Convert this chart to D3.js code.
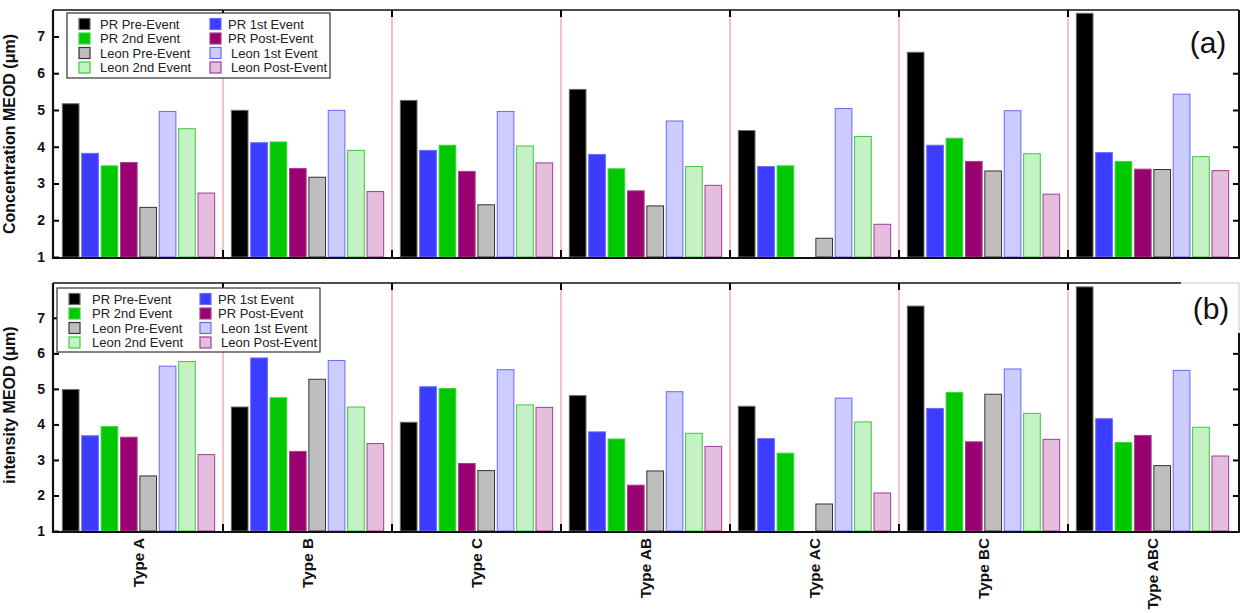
<!DOCTYPE html>
<html>
<head>
<meta charset="utf-8">
<script src="https://d3js.org/d3.v7.min.js"></script>
<style>
body{margin:0;background:#fff;}
text{font-family:"Liberation Sans",Arial,sans-serif;}
</style>
</head>
<body>
<svg id="chart" width="1243" height="613"></svg>
<script>
//类别
var types = ["Type A", "Type B", "Type C", "Type AB", "Type AC", "Type BC", "Type ABC"];
//系列 (bar order inside each group)
var seriesNames = ["PR Pre-Event", "PR 1st Event", "PR 2nd Event", "PR Post-Event",
	"Leon Pre-Event", "Leon 1st Event", "Leon 2nd Event", "Leon Post-Event"];
//(a) one row per type, same order as seriesNames
var concMEOD = [
	[5.17, 3.82, 3.48, 3.57, 2.35, 4.96, 4.49, 2.74],
	[4.99, 4.11, 4.13, 3.41, 3.17, 4.99, 3.90, 2.78],
	[5.26, 3.90, 4.04, 3.33, 2.42, 4.96, 4.02, 3.56],
	[5.56, 3.79, 3.40, 2.80, 2.39, 4.70, 3.46, 2.95],
	[4.44, 3.46, 3.48, null, 1.51, 5.04, 4.28, 1.89],
	[6.57, 4.04, 4.23, 3.60, 3.34, 4.98, 3.81, 2.71],
	[7.63, 3.84, 3.60, 3.39, 3.38, 5.43, 3.73, 3.35]
];
//(b)
var intensityMEOD = [
	[4.98, 3.68, 3.94, 3.64, 2.55, 5.64, 5.77, 3.15],
	[4.49, 5.87, 4.75, 3.24, 5.27, 5.80, 4.49, 3.46],
	[4.06, 5.06, 5.01, 2.90, 2.70, 5.54, 4.55, 4.48],
	[4.81, 3.79, 3.59, 2.29, 2.69, 4.92, 3.75, 3.38],
	[4.51, 3.60, 3.19, null, 1.76, 4.74, 4.07, 2.07],
	[7.33, 4.45, 4.90, 3.51, 4.85, 5.56, 4.31, 3.58],
	[7.87, 4.16, 3.49, 3.69, 2.84, 5.52, 3.92, 3.11]
];
var yTicks = [1, 2, 3, 4, 5, 6, 7];
var rightTicks = [2, 3, 4, 5, 6];

//颜色
var fills = ["#000000", "#3c3cff", "#00c800", "#990070", "#bebebe", "#ccccff", "#c4f2c4", "#e4bedc"];
var strokes = ["#6a6a6a", "#6a6aff", "#3ad83a", "#a8408c", "#333333", "#6868ff", "#3acc3a", "#a03c9a"];

var svg = d3.select("#chart");
var left = 53, right = 1239;

var x0 = d3.scaleBand().domain(types).range([54, 1237]);
var x1 = d3.scaleBand().domain(seriesNames).range([0, x0.bandwidth()])
	.paddingInner(0.14).paddingOuter(0.43);

function drawPanel(cfg){
	var y = d3.scaleLinear().domain([1, cfg.yMax]).range([cfg.bottom, cfg.top]);
	var g = svg.append("g");

	//分隔线
	var seps = types.slice(1).map(function(t){ return x0(t); });
	g.selectAll("line.sep").data(seps).enter().append("line")
		.attr("x1", function(d){ return d; })
		.attr("x2", function(d){ return d; })
		.attr("y1", cfg.top)
		.attr("y2", cfg.bottom)
		.attr("stroke", "#f2a4a4")
		.attr("stroke-width", 1.3);

	//柱子
	var groups = g.selectAll("g.grp").data(cfg.values).enter().append("g")
		.attr("transform", function(d, i){ return "translate(" + x0(types[i]) + ",0)"; });
	groups.selectAll("rect").data(function(d){
			return d.map(function(v, j){ return {v: v, j: j}; }).filter(function(e){ return e.v != null; });
		})
		.enter().append("rect")
		.attr("x", function(d){ return x1(seriesNames[d.j]); })
		.attr("y", function(d){ return y(d.v); })
		.attr("width", x1.bandwidth())
		.attr("height", function(d){ return cfg.bottom - y(d.v); })
		.attr("fill", function(d){ return fills[d.j]; })
		.attr("stroke", function(d){ return strokes[d.j]; })
		.attr("stroke-width", 1);

	//分隔刻度
	g.selectAll("line.tb").data(seps).enter().append("line")
		.attr("x1", function(d){ return d; }).attr("x2", function(d){ return d; })
		.attr("y1", cfg.bottom - 7).attr("y2", cfg.bottom)
		.attr("stroke", "#000").attr("stroke-width", 2);
	g.selectAll("line.tt").data(seps).enter().append("line")
		.attr("x1", function(d){ return d; }).attr("x2", function(d){ return d; })
		.attr("y1", cfg.top).attr("y2", cfg.top + 7)
		.attr("stroke", "#000").attr("stroke-width", 2);

	//边框
	g.append("line").attr("x1", left).attr("x2", cfg.topEnd).attr("y1", cfg.top).attr("y2", cfg.top)
		.attr("stroke", "#111").attr("stroke-width", 1.5);
	if(cfg.topEnd < right){
		g.append("line").attr("x1", cfg.topEnd).attr("x2", right).attr("y1", cfg.top).attr("y2", cfg.top)
			.attr("stroke", "#c8c8c8").attr("stroke-width", 1);
		g.append("line").attr("x1", right).attr("x2", right).attr("y1", cfg.top).attr("y2", cfg.rightStart)
			.attr("stroke", "#c8c8c8").attr("stroke-width", 1);
	}
	g.append("line").attr("x1", right).attr("x2", right).attr("y1", cfg.rightStart).attr("y2", cfg.bottom + 1)
		.attr("stroke", "#111").attr("stroke-width", 2);
	g.append("line").attr("x1", left).attr("x2", right + 1).attr("y1", cfg.bottom + 1).attr("y2", cfg.bottom + 1)
		.attr("stroke", "#111").attr("stroke-width", 2.2);

	//y轴
	var ya = g.append("g").attr("transform", "translate(" + left + ",0)")
		.call(d3.axisLeft(y).tickValues(yTicks).tickFormat(d3.format("d"))
			.tickSizeInner(-6).tickSizeOuter(0).tickPadding(8));
	ya.select(".domain").attr("stroke", "#111").attr("stroke-width", 2.2)
		.attr("d", "M0," + cfg.top + "V" + (cfg.bottom + 2));
	ya.selectAll(".tick line").attr("stroke-width", 2);
	ya.selectAll(".tick text")
		.style("font-family", "'Liberation Sans',Arial,sans-serif")
		.style("font-size", "14px").style("font-weight", "bold").attr("fill", "#111");

	var yr = g.append("g").attr("transform", "translate(" + right + ",0)")
		.call(d3.axisRight(y).tickValues(rightTicks).tickSizeInner(-6).tickSizeOuter(0).tickFormat(""));
	yr.select(".domain").remove();
	yr.selectAll(".tick line").attr("stroke-width", 2);

	//y轴标题
	g.append("text")
		.attr("transform", "translate(" + cfg.titleX + "," + cfg.titleY + ") rotate(-90)")
		.style("text-anchor", "middle")
		.style("font-size", "16px").style("font-weight", "bold")
		.attr("fill", "#111")
		.text(cfg.title);

	//面板标签
	g.append("text")
		.attr("x", cfg.tagX).attr("y", cfg.tagY)
		.style("text-anchor", "middle")
		.style("font-size", "30px")
		.attr("fill", "#111")
		.text(cfg.tag);

	//图例
	var lx = cfg.legX, ly = cfg.legY;
	g.append("rect")
		.attr("x", lx).attr("y", ly).attr("width", 263).attr("height", cfg.legH)
		.attr("fill", "#fff").attr("stroke", "#333").attr("stroke-width", 1.2);
	var items = g.selectAll("g.leg").data(seriesNames).enter().append("g")
		.attr("transform", function(d, i){
			return "translate(" + lx + "," + (ly + 11 + Math.floor(i / 2) * cfg.legStep) + ")";
		});
	items.append("rect")
		.attr("x", function(d, i){ return i % 2 == 0 ? 12 : 143; })
		.attr("y", -5.5)
		.attr("width", 11).attr("height", 11)
		.attr("fill", function(d, i){ return fills[i]; })
		.attr("stroke", function(d, i){ return strokes[i]; })
		.attr("stroke-width", 1.2);
	items.append("text")
		.attr("x", function(d, i){
			if(i % 2 == 0) return cfg.txt1;
			return i >= 5 ? cfg.txt2 + 3 : cfg.txt2;
		})
		.attr("y", 4.5)
		.style("font-size", "13px")
		.attr("fill", "#222")
		.text(function(d){ return d; });
}

drawPanel({
	top: 10, bottom: 257, yMax: 7.72, values: concMEOD,
	title: "Concentration MEOD (\u03bcm)", titleX: 15, titleY: 134,
	tag: "(a)", tagX: 1208, tagY: 53,
	legX: 67, legY: 13, legH: 65, legStep: 14.5, txt1: 33, txt2: 161,
	topEnd: right, rightStart: 10
});

drawPanel({
	top: 283, bottom: 531, yMax: 7.98, values: intensityMEOD,
	title: "intensity MEOD (\u03bcm)", titleX: 15, titleY: 405,
	tag: "(b)", tagX: 1211, tagY: 319,
	legX: 57, legY: 288, legH: 64, legStep: 14.5, txt1: 35, txt2: 161,
	topEnd: 1181, rightStart: 333
});

//x轴标签
svg.selectAll("text.xl").data(types).enter().append("text")
	.attr("class", "xl")
	.attr("transform", function(d){
		return "translate(" + (x0(d) + x0.bandwidth() / 2 + 5.5) + ",538) rotate(-90)";
	})
	.style("text-anchor", "end")
	.style("font-size", "15.3px").style("font-weight", "bold")
	.attr("fill", "#111")
	.text(function(d){ return d; });
</script>
</body>
</html>
